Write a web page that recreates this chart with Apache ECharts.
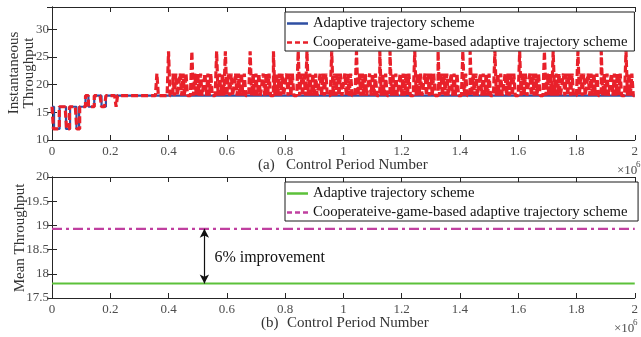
<!DOCTYPE html>
<html>
<head>
<meta charset="utf-8">
<script src="https://cdn.jsdelivr.net/npm/echarts@6/dist/echarts.min.js"></script>
<style>html,body{margin:0;padding:0;background:#fff;}#c{width:641px;height:337px;}</style>
</head>
<body>
<div id="c"></div>
<script>
// ---------- DATA ----------
// x values are in units of 10^6 control periods
const xTicks = [0, 0.2, 0.4, 0.6, 0.8, 1, 1.2, 1.4, 1.6, 1.8, 2];
const seriesNames = ["Adaptive trajectory scheme", "Cooperateive-game-based adaptive trajectory scheme"];

// (a) Adaptive scheme: step change points
const blueX = [0, 0.007, 0.026, 0.048, 0.062, 0.084, 0.093, 0.115, 0.125, 0.145, 0.17, 0.185, 2.0];
const blueY = [16, 12, 16, 12, 16, 12, 16, 18, 16, 18, 16, 18, 18];

// (a) Cooperative-game scheme: throughput level in each 0.005×10^6 slot (0 … 2×10^6)
const redLevels = [
  16,12,12,12,12,16,16,16,16,16,12,12,16,16,16,16,16,12,12,16,
  16,16,16,18,18,16,16,16,16,18,18,18,18,18,16,16,16,18,18,18,
  18,18,18,18,16,18,18,18,18,18,18,18,18,18,18,18,18,18,18,18,
  18,18,18,18,18,18,18,18,18,18,18,18,22,18,18,18,18,18,18,18,
  26,18,18,22,18,22,18,20,22,18,22,18,22,18,18,18,26,18,22,18,
  22,18,22,18,20,22,18,22,18,22,18,18,18,26,18,22,18,22,18,26,
  18,22,18,22,18,20,22,18,22,18,22,18,22,18,18,18,26,18,22,18,
  22,18,22,18,20,22,18,22,18,22,18,18,26,18,22,18,22,18,22,18,
  20,22,18,22,18,22,18,18,18,26,18,22,18,22,18,26,18,22,18,22,
  18,22,18,20,22,18,22,18,22,18,18,18,26,18,22,18,22,18,22,18,
  20,22,18,22,18,22,18,18,18,26,18,22,18,22,18,22,18,20,22,18,
  22,18,22,18,18,26,18,22,18,22,18,18,26,18,22,18,22,18,20,22,
  18,22,18,22,18,22,18,18,18,26,18,22,18,22,18,20,22,18,22,18,
  22,18,22,18,18,26,18,22,18,22,18,22,18,20,22,18,22,18,22,18,
  18,18,26,18,22,18,18,26,18,22,18,22,18,20,22,18,22,18,22,18,
  22,18,18,18,26,18,22,18,22,18,20,22,18,22,18,22,18,22,18,18,
  18,26,18,22,18,22,18,20,22,18,22,18,22,18,22,18,18,18,26,18,
  22,18,22,18,26,18,22,18,22,18,20,22,18,22,18,22,18,22,18,18,
  18,26,18,22,18,22,18,20,22,18,22,18,22,18,22,18,18,26,18,22,
  18,22,18,20,22,18,22,18,22,18,22,18,18,18,26,18,22,18,22,18
];

// (b) mean throughput
const meanAdaptive = 17.8;
const meanCoop = 18.93;
const improvementText = "6% improvement";
const arrowX = 0.523;

// ---------- BUILD ----------
const FONT = "Liberation Serif";
const X_MAX = xTicks[xTicks.length - 1];
const slot = X_MAX / redLevels.length;
const redData = redLevels.map((v, i) => [i * slot, v]);
redData.push([X_MAX, redLevels[redLevels.length - 1]]);
const blueData = blueX.map((x, i) => [x, blueY[i]]);

const names2 = [seriesNames[0] + " ", seriesNames[1] + " "];

const axisCol = "#262626";
const labelCol = "#4d4d4d";

// legend icons (21 x 14 box)
const BOX = "M0,0h0.01v0.01h-0.01z M21,14h-0.01v-0.01h0.01z ";
const ICON_SOLID = "path://" + BOX + "M0,5.7h21v2.6h-21z";
const ICON_DASH = "path://" + BOX + "M0,5.7h5v2.6h-5z M8,5.7h5v2.6h-5z M16,5.7h5v2.6h-5z";

function xAx(grid, pos, showLabel) {
  return {
    type: "value", gridIndex: grid, position: pos, min: 0, max: X_MAX, interval: 0.2,
    axisLine: { show: true, lineStyle: { color: axisCol, width: 1 } },
    axisTick: { show: true, inside: true, length: 5, lineStyle: { color: axisCol } },
    axisLabel: { show: showLabel, color: labelCol, fontFamily: FONT, fontSize: 13, margin: 5 },
    splitLine: { show: false }
  };
}
function yAx(grid, pos, min, max, interval, showLabel, showMax) {
  return {
    type: "value", gridIndex: grid, position: pos, min: min, max: max, interval: interval,
    axisLine: { show: true, lineStyle: { color: axisCol, width: 1 } },
    axisTick: { show: true, inside: true, length: 5, lineStyle: { color: axisCol } },
    axisLabel: { show: showLabel, color: labelCol, fontFamily: FONT, fontSize: 13, margin: 3, showMaxLabel: showMax },
    splitLine: { show: false }
  };
}

const chart = echarts.init(document.getElementById("c"), null, { renderer: "canvas" });

const legendCommon = {
  orient: "vertical", left: 285, itemWidth: 21, itemHeight: 14, itemGap: 4,
  borderColor: "#1a1a1a", borderWidth: 1, backgroundColor: "#fff", borderRadius: 0,
  padding: [4, 7, 1, 2],
  textStyle: { fontFamily: FONT, fontSize: 14.7, color: "#111" }
};

const option = {
  animation: false,
  backgroundColor: "#fff",
  grid: [
    { left: 52, right: 3, top: 7, bottom: 197 },
    { left: 52, right: 3, top: 177, bottom: 39 }
  ],
  xAxis: [ xAx(0, "bottom", true), xAx(0, "top", false), xAx(1, "bottom", true), xAx(1, "top", false) ],
  yAxis: [
    yAx(0, "left", 10, 34, 5, true, false), yAx(0, "right", 10, 34, 5, false, false),
    yAx(1, "left", 17.5, 20, 0.5, true, true), yAx(1, "right", 17.5, 20, 0.5, false, false)
  ],
  legend: [
    Object.assign({}, legendCommon, { top: 12, data: [
      { name: seriesNames[0], icon: ICON_SOLID }, { name: seriesNames[1], icon: ICON_DASH } ] }),
    Object.assign({}, legendCommon, { top: 182, data: [
      { name: names2[0], icon: ICON_SOLID }, { name: names2[1], icon: ICON_DASH } ] })
  ],
  series: [
    {
      name: seriesNames[0], type: "line", xAxisIndex: 0, yAxisIndex: 0, step: "end",
      data: blueData, symbol: "none", lineStyle: { color: "#2f4fa3", width: 2.2 }, itemStyle: { color: "#2f4fa3" }, z: 2
    },
    {
      name: seriesNames[1], type: "line", xAxisIndex: 0, yAxisIndex: 0, step: "end",
      data: redData, symbol: "none", lineStyle: { color: "#e8202a", width: 3.2, type: [7, 3] }, itemStyle: { color: "#e8202a" }, z: 3
    },
    {
      name: names2[0], type: "line", xAxisIndex: 2, yAxisIndex: 2,
      data: [[0, meanAdaptive], [X_MAX, meanAdaptive]], symbol: "none",
      lineStyle: { color: "#5cc13a", width: 2 }, itemStyle: { color: "#5cc13a" },
      markLine: {
        silent: true, symbol: ["arrow", "arrow"], symbolSize: [7, 9],
        lineStyle: { color: "#111", width: 1.2, type: "solid" }, label: { show: false },
        data: [[{ coord: [arrowX, meanAdaptive] }, { coord: [arrowX, meanCoop] }]]
      }
    },
    {
      name: names2[1], type: "line", xAxisIndex: 2, yAxisIndex: 2,
      data: [[0, meanCoop], [X_MAX, meanCoop]], symbol: "none",
      lineStyle: { color: "#c040a0", width: 2.2, type: [10, 4, 3, 4] }, itemStyle: { color: "#c040a0" }
    }
  ]
};
chart.setOption(option);

const tp = chart.convertToPixel({ xAxisIndex: 2, yAxisIndex: 2 }, [arrowX, (meanAdaptive + meanCoop) / 2]);
const nameStyle = { fontFamily: FONT, fontSize: 15, fill: "#333" };
chart.setOption({
  graphic: [
    { type: "text", x: tp[0] + 10, y: tp[1] + 2, style: Object.assign({}, nameStyle, { text: improvementText, fill: "#111", fontSize: 16, verticalAlign: "middle" }) },
    { type: "text", x: 258, y: 165, style: Object.assign({}, nameStyle, { text: "(a)", verticalAlign: "middle" }) },
    { type: "text", x: 286, y: 165, style: Object.assign({}, nameStyle, { text: "Control Period Number", verticalAlign: "middle" }) },
    { type: "text", x: 261, y: 323, style: Object.assign({}, nameStyle, { text: "(b)", verticalAlign: "middle" }) },
    { type: "text", x: 287, y: 323, style: Object.assign({}, nameStyle, { text: "Control Period Number", verticalAlign: "middle" }) },
    { type: "text", x: 617, y: 171, style: Object.assign({}, nameStyle, { text: "×10", fontSize: 13, fill: labelCol, verticalAlign: "middle" }) },
    { type: "text", x: 636, y: 165, style: Object.assign({}, nameStyle, { text: "6", fontSize: 9, fill: labelCol, verticalAlign: "middle" }) },
    { type: "text", x: 614, y: 329, style: Object.assign({}, nameStyle, { text: "×10", fontSize: 13, fill: labelCol, verticalAlign: "middle" }) },
    { type: "text", x: 633, y: 323, style: Object.assign({}, nameStyle, { text: "6", fontSize: 9, fill: labelCol, verticalAlign: "middle" }) },
    { type: "text", x: 14, y: 73, rotation: Math.PI / 2, style: Object.assign({}, nameStyle, { text: "Instantaneous", align: "center", verticalAlign: "middle" }) },
    { type: "text", x: 29, y: 73, rotation: Math.PI / 2, style: Object.assign({}, nameStyle, { text: "Throughput", align: "center", verticalAlign: "middle" }) },
    { type: "text", x: 20, y: 238, rotation: Math.PI / 2, style: Object.assign({}, nameStyle, { text: "Mean Throughput", align: "center", verticalAlign: "middle" }) }
  ]
});
</script>
</body>
</html>
